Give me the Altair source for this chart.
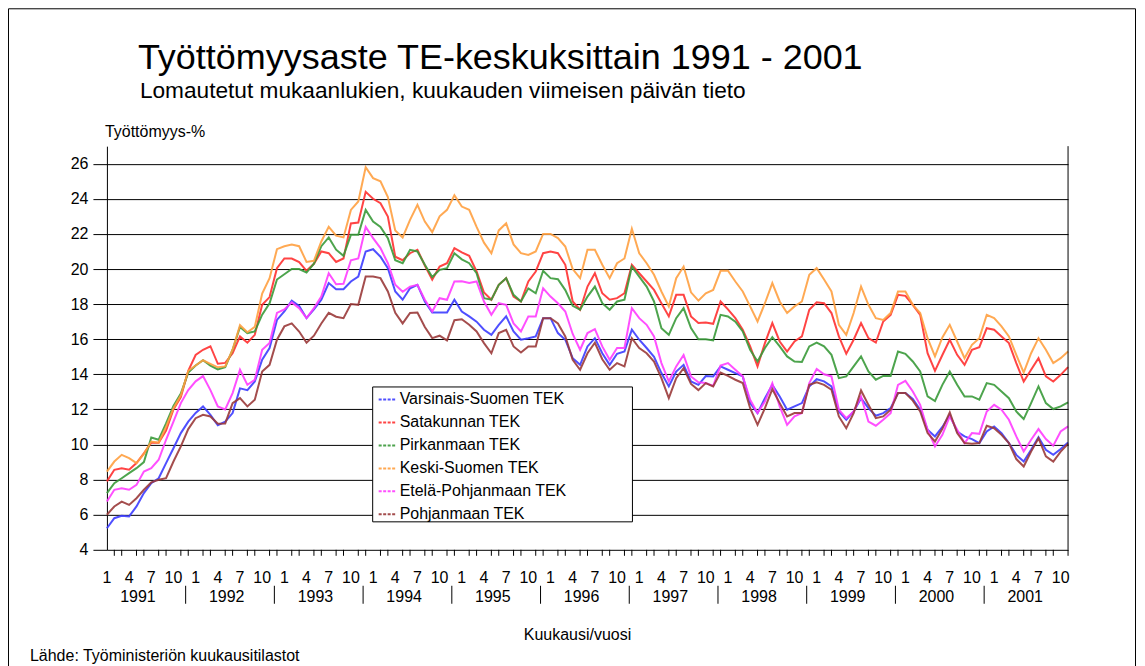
import altair as alt
import pandas as pd

FONT = "Liberation Sans"

series_names = ["Varsinais-Suomen TEK", "Satakunnan TEK", "Pirkanmaan TEK",
                "Keski-Suomen TEK", "Etelä-Pohjanmaan TEK", "Pohjanmaan TEK"]
series_colors = ["#3c3cff", "#ff3030", "#3a9a3a", "#ffa040", "#ff3cff", "#9a3a3a"]

years = list(range(1991, 2002))
month_numbers = list(range(1, 13))
periods = [(y, m) for y in years for m in month_numbers][:131]  # 1/1991 .. 11/2001

varsinais = [
    5.23, 5.8, 5.94, 5.9, 6.47, 7.23, 7.8, 8.08, 8.94, 9.79, 10.65, 11.3,
    11.8, 12.17, 11.69, 11.1, 11.3, 11.79, 13.2, 13.1, 13.59, 14.83, 15.5, 17.1,
    17.58, 18.2, 17.9, 17.2, 17.7, 18.25, 19.2, 18.85, 18.85, 19.29, 19.57, 21.0,
    21.13, 20.7, 20.05, 18.72, 18.25, 18.9, 19.1, 18.15, 17.52, 17.52, 17.52, 18.25,
    17.58, 17.3, 17.0, 16.54, 16.25, 16.82, 17.3, 16.44, 15.97, 16.06, 16.16, 17.2,
    17.2, 16.35, 15.97, 14.92, 14.54, 15.59, 16.06, 15.2, 14.54, 15.17, 15.3, 16.54,
    15.97, 15.5, 15.0, 14.07, 13.31, 14.16, 14.54, 13.59, 13.4, 13.9, 13.88, 14.45,
    14.26, 14.07, 13.88, 12.36, 11.79, 12.64, 13.4, 12.74, 11.98, 12.17, 12.36, 13.31,
    13.72, 13.6, 13.31, 11.88, 11.41, 11.88, 12.64, 12.07, 11.64, 11.79, 12.07, 12.93,
    12.93, 12.59, 11.98, 10.84, 10.46, 11.0, 11.69, 10.74, 10.46, 10.31, 10.08, 10.74,
    11.03, 10.65, 10.08, 9.41, 9.03, 9.7, 10.42, 9.7, 9.41, 9.74, 10.12]

satakunta = [
    7.9, 8.56, 8.65, 8.56, 8.94, 9.5, 10.1, 10.1, 10.8, 12.0, 12.7, 14.2,
    15.1, 15.4, 15.6, 14.6, 14.65, 15.2, 16.16, 15.8, 16.25, 17.96, 18.4, 20.05,
    20.6, 20.6, 20.4, 19.9, 20.3, 21.0, 20.9, 20.4, 20.6, 22.6, 22.65, 24.4,
    24.0, 23.75, 22.99, 20.7, 20.5, 20.9, 21.1, 20.2, 19.4, 20.14, 20.33, 21.19,
    20.95, 20.75, 19.86, 18.66, 18.25, 19.1, 19.48, 18.43, 18.15, 19.29, 19.86, 20.9,
    21.0, 20.9, 20.24, 18.15, 17.68, 19.0, 19.76, 18.62, 18.25, 18.34, 18.62, 20.24,
    19.76, 19.29, 18.81, 18.05, 17.3, 18.53, 18.53, 17.3, 16.92, 16.95, 16.88, 18.15,
    17.7, 17.2, 16.54, 15.59, 14.45, 15.78, 16.92, 15.87, 15.3, 15.87, 16.16, 17.68,
    18.1, 18.05, 17.49, 16.16, 15.17, 15.97, 16.92, 16.06, 15.81, 17.01, 17.39, 18.53,
    18.47, 17.96, 17.39, 15.2, 14.2, 15.1, 15.97, 15.11, 14.54, 15.4, 15.55, 16.63,
    16.54, 16.16, 15.78, 14.64, 13.59, 14.26, 14.92, 13.88, 13.59, 13.97, 14.41]

pirkanmaa = [
    7.23, 7.8, 8.08, 8.37, 8.65, 9.0, 10.4, 10.27, 11.2, 12.2, 12.9, 14.1,
    14.5, 14.8, 14.5, 14.28, 14.4, 15.4, 16.7, 16.35, 16.44, 17.4, 18.05, 19.4,
    19.7, 20.0, 20.0, 19.8, 20.3, 21.3, 21.8, 21.1, 20.75, 21.95, 21.95, 23.37,
    22.7, 22.4, 21.76, 20.5, 20.33, 21.09, 21.0, 20.24, 19.54, 19.95, 20.05, 20.9,
    20.55, 20.33, 19.76, 18.34, 18.25, 19.1, 19.48, 18.53, 18.15, 18.9, 18.62, 19.9,
    19.48, 19.42, 18.8, 17.9, 17.68, 18.43, 19.0, 18.05, 17.68, 18.15, 18.25, 20.14,
    19.57, 19.0, 18.15, 16.63, 16.25, 17.2, 17.77, 16.63, 16.0, 16.0, 15.93, 17.39,
    17.3, 17.0, 16.44, 15.4, 14.73, 15.5, 16.12, 15.59, 15.02, 14.73, 14.7, 15.59,
    15.81, 15.59, 15.11, 13.78, 13.88, 14.45, 15.02, 14.16, 13.69, 13.91, 13.91, 15.3,
    15.17, 14.73, 14.16, 12.74, 12.48, 13.4, 14.16, 13.4, 12.74, 12.74, 12.55, 13.5,
    13.4, 13.02, 12.64, 11.88, 11.45, 12.36, 13.31, 12.36, 12.02, 12.17, 12.4]

keski_suomi = [
    8.46, 9.03, 9.41, 9.22, 8.94, 9.47, 10.17, 10.1, 11.0, 12.07, 12.8, 14.2,
    14.5, 14.8, 14.6, 14.4, 14.45, 15.4, 16.8, 16.4, 16.7, 18.6, 19.48, 21.13,
    21.3, 21.4, 21.3, 20.4, 20.47, 21.57, 22.4, 21.9, 21.8, 23.37, 23.85, 25.8,
    25.18, 25.0, 24.1, 22.2, 21.8, 22.8, 23.66, 22.7, 22.1, 23.0, 23.37, 24.2,
    23.56, 23.37, 22.4, 21.5, 20.9, 22.2, 22.6, 21.4, 20.9, 20.8, 21.0, 22.0,
    22.0, 21.76, 21.28, 20.0, 19.48, 21.1, 21.1, 20.24, 19.48, 20.33, 20.6, 22.3,
    20.9, 20.33, 19.67, 18.72, 17.87, 19.48, 20.14, 18.67, 18.2, 18.62, 18.81, 19.9,
    19.9, 19.29, 18.72, 17.87, 17.01, 18.05, 19.2, 18.15, 17.49, 17.87, 18.15, 19.67,
    20.05, 19.4, 18.72, 16.82, 16.25, 17.49, 19.0, 17.96, 17.2, 17.1, 17.49, 18.72,
    18.72, 17.96, 17.49, 16.06, 15.02, 16.1, 16.82, 15.87, 14.92, 15.68, 16.06, 17.39,
    17.2, 16.73, 16.16, 15.11, 14.1, 15.2, 16.06, 15.4, 14.64, 14.92, 15.3]

etela_pohjanmaa = [
    6.75, 7.42, 7.51, 7.42, 7.7, 8.46, 8.65, 9.13, 10.27, 11.3, 12.36, 13.1,
    13.6, 13.9, 13.1, 12.17, 12.0, 12.93, 14.26, 13.4, 13.69, 15.4, 15.78, 17.5,
    17.7, 18.1, 17.77, 17.2, 17.77, 18.43, 19.76, 19.13, 19.16, 20.5, 20.6, 22.4,
    21.76, 21.19, 20.33, 19.1, 18.7, 19.0, 19.1, 18.25, 17.58, 18.34, 18.25, 19.29,
    19.3, 19.2, 19.29, 18.15, 17.39, 18.05, 17.96, 16.9, 16.44, 17.3, 17.3, 18.9,
    18.43, 18.05, 17.58, 16.3, 15.4, 16.35, 16.57, 15.59, 14.83, 15.5, 15.5, 17.77,
    17.2, 16.82, 16.16, 14.64, 13.6, 14.45, 15.1, 13.88, 13.55, 13.5, 13.34, 14.5,
    14.64, 14.26, 13.88, 12.55, 11.79, 12.45, 13.5, 12.17, 11.12, 11.6, 11.79, 13.5,
    14.3, 14.0, 13.88, 11.98, 11.5, 11.88, 12.74, 11.31, 11.07, 11.41, 11.79, 13.4,
    13.63, 13.02, 12.26, 10.84, 9.89, 10.55, 11.6, 10.84, 10.08, 10.65, 10.61, 11.88,
    12.26, 11.98, 11.41, 10.46, 9.6, 10.27, 10.88, 10.31, 9.93, 10.74, 11.03]

pohjanmaa = [
    6.0, 6.47, 6.75, 6.56, 6.94, 7.42, 7.84, 7.99, 8.08, 9.03, 9.89, 10.88,
    11.5, 11.69, 11.6, 11.18, 11.2, 12.36, 12.64, 12.17, 12.55, 14.16, 14.54, 15.97,
    16.73, 16.9, 16.44, 15.8, 16.2, 16.9, 17.5, 17.28, 17.2, 18.0, 17.96, 19.57,
    19.57, 19.48, 18.72, 17.5, 16.9, 17.5, 17.52, 16.7, 16.06, 16.2, 15.93, 17.08,
    17.14, 16.82, 16.44, 15.78, 15.2, 16.35, 16.54, 15.59, 15.24, 15.59, 15.59, 17.2,
    17.2, 16.9, 16.16, 14.83, 14.26, 15.2, 15.8, 14.86, 14.26, 14.64, 14.45, 16.06,
    15.5, 15.2, 14.73, 13.78, 12.64, 13.78, 14.35, 13.45, 13.1, 13.5, 13.31, 14.1,
    13.91, 13.69, 13.5, 12.07, 11.12, 12.07, 13.15, 12.36, 11.6, 11.79, 11.79, 13.4,
    13.55, 13.4, 13.12, 11.6, 10.93, 11.79, 13.08, 12.26, 11.5, 11.6, 11.98, 12.93,
    12.93, 12.5, 11.88, 10.65, 10.17, 10.9, 11.83, 10.65, 10.08, 10.04, 10.08, 11.07,
    10.93, 10.55, 10.08, 9.17, 8.75, 9.6, 10.36, 9.32, 9.03, 9.6, 10.04]

series_values = [varsinais, satakunta, pirkanmaa, keski_suomi, etela_pohjanmaa, pohjanmaa]

y_ticks = list(range(4, 27, 2))

title_text = "Työttömyysaste TE-keskuksittain 1991 - 2001"
subtitle_text = "Lomautetut mukaanlukien, kuukauden viimeisen päivän tieto"
y_title_text = "Työttömyys-%"
x_title_text = "Kuukausi/vuosi"
source_text = "Lähde: Työministeriön kuukausitilastot"

# ---------------- tables ----------------
rows = []
for k, (name, vals) in enumerate(zip(series_names, series_values)):
    for t, v in enumerate(vals):
        rows.append({"t": t, "v": v, "s": name, "k": k})
df = pd.DataFrame(rows)

n = len(periods)
major_df = pd.DataFrame({"t": [t for t in range(n) if t % 3 == 0],
                         "m": [periods[t][1] for t in range(n) if t % 3 == 0]})
minor_df = pd.DataFrame({"t": [t for t in range(n) if t % 3 != 0]})
year_df = pd.DataFrame({"year": [str(y) for y in years],
                        "pos": [(y - years[0]) * 12 + 4.2 for y in years]})
sep_df = pd.DataFrame({"pos": [(y - years[0]) * 12 - 1.35 for y in years[1:]]})
one = pd.DataFrame({"d": [0]})

W, H = 962, 404
xscale = alt.Scale(domain=[0, n - 1], nice=False, zero=False)
yscale = alt.Scale(domain=[4, 27], nice=False, zero=False)

# x axis: grid + major ticks only; month numbers are drawn as text marks below
x_axis = alt.Axis(values=major_df["t"].tolist(), labels=False,
                  title=None, grid=True, gridColor="#000", gridOpacity=1, gridWidth=1,
                  domainColor="#000", tickColor="#000", tickSize=10)
y_axis = alt.Axis(values=y_ticks, title=None, grid=True, gridColor="#000", gridOpacity=1,
                  gridWidth=1, domainColor="#000", tickColor="#000", tickSize=14,
                  labelPadding=5, labelFont=FONT, labelFontSize=16, labelColor="#000")

# outer frame
frame = alt.Chart(one).mark_rect(filled=False, stroke="#000", strokeWidth=1).encode(
    x=alt.value(-98.5), x2=alt.value(1029.5), y=alt.value(-137.5), y2=alt.value(560))

lines = alt.Chart(df).mark_line(strokeWidth=2, opacity=0.9).encode(
    x=alt.X("t:Q", scale=xscale, axis=x_axis),
    y=alt.Y("v:Q", scale=yscale, axis=y_axis),
    color=alt.Color("s:N", scale=alt.Scale(domain=series_names, range=series_colors),
                    legend=alt.Legend(title=None, orient="none", legendX=271, legendY=244,
                                      symbolType="stroke", symbolSize=289,
                                      symbolStrokeWidth=2, symbolDash=[3, 1.5],
                                      labelFont=FONT, labelFontSize=16, labelColor="#000",
                                      labelLimit=400, labelOffset=3, rowPadding=5,
                                      padding=0)),
    detail="s:N",
    order="t:Q",
)

right_edge = alt.Chart(one).mark_rule(color="#000", strokeWidth=1).encode(
    x=alt.value(W), y=alt.value(0), y2=alt.value(H))

minor_ticks = alt.Chart(minor_df).mark_rule(color="#000", strokeWidth=1).encode(
    x=alt.X("t:Q", scale=xscale, axis=None), y=alt.value(H), y2=alt.value(H + 6))

month_labels = alt.Chart(major_df).mark_text(font=FONT, fontSize=16, color="#000",
                                             align="center", baseline="alphabetic").encode(
    x=alt.X("t:Q", scale=xscale, axis=None), y=alt.value(437), text="m:N")

year_labels = alt.Chart(year_df).mark_text(font=FONT, fontSize=16, color="#000",
                                           align="center", baseline="alphabetic").encode(
    x=alt.X("pos:Q", scale=xscale, axis=None), y=alt.value(456), text="year:N")

separators = alt.Chart(sep_df).mark_rule(color="#000", strokeWidth=1).encode(
    x=alt.X("pos:Q", scale=xscale, axis=None), y=alt.value(440), y2=alt.value(458))

legend_box = alt.Chart(one).mark_rect(fill="#fff", stroke="#000", strokeWidth=1).encode(
    x=alt.value(266), x2=alt.value(526), y=alt.value(241), y2=alt.value(376))


def label(text, x, y, size, align="left"):
    return alt.Chart(pd.DataFrame({"txt": [text]})).mark_text(
        font=FONT, fontSize=size, color="#000", align=align, baseline="alphabetic"
    ).encode(x=alt.value(x), y=alt.value(y), text="txt:N")


chart = alt.layer(
    frame,
    lines,
    right_edge,
    minor_ticks,
    month_labels,
    separators,
    year_labels,
    legend_box,
    label(title_text, 31, -77, 36),
    label(subtitle_text, 33, -48, 22.7),
    label(y_title_text, -2, -9, 16),
    label(x_title_text, 471, 494, 16, "center"),
    label(source_text, -77, 515, 16),
).properties(
    width=W, height=H,
    padding={"left": 99, "top": 138, "right": 69, "bottom": 116},
    autosize=alt.AutoSizeParams(type="none"),
    background="#ffffff",
).configure_view(stroke=None)

chart.save("out.html", embed_options={"renderer": "svg", "actions": False})
